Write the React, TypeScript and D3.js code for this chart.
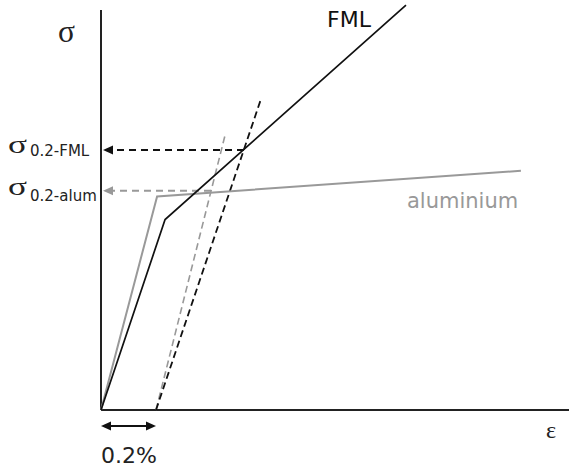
import * as React from 'react'
import * as d3 from 'd3'

// strain in %, stress in MPa (schematic)
const aluminiumCurve: [number, number][] = [[0, 0], [0.204, 267], [1.527, 299]]
const fmlCurve: [number, number][] = [[0, 0], [0.233, 238], [1.109, 506]]
const aluminiumOffset: [number, number][] = [[0.2, 0], [0.453, 346]]
const fmlOffset: [number, number][] = [[0.2, 0], [0.582, 389]]
const proofStressFml = 325
const proofStressAlum = 274
const proofStrainFml = 0.52
const proofStrainAlum = 0.4
const offsetStrain = 0.2

const W = 569
const H = 470
const x0 = 101
const y0 = 410

const BLACK = '#111'
const GREY = '#999'

export default function App() {
  const x = d3.scaleLinear().domain([0, 1]).range([x0, x0 + 275])
  const y = d3.scaleLinear().domain([0, 500]).range([y0, 10])
  const line = d3.line<[number, number]>().x(d => x(d[0])).y(d => y(d[1]))

  const leftArrow = (px: number, py: number) =>
    `M${px},${py} L${px + 10},${py - 4.5} L${px + 10},${py + 4.5} Z`

  const yF = y(proofStressFml)
  const yA = y(proofStressAlum)
  const ya = y0 + 16

  return (
    <svg width={W} height={H} style={{ position: 'absolute', left: 0, top: 0, background: '#fff' }}>
      {/* axes */}
      <line x1={x0} x2={x0} y1={10} y2={y0} stroke="#222" strokeWidth={2} />
      <line x1={x0} x2={W} y1={y0} y2={y0} stroke="#222" strokeWidth={2} />

      {/* offset lines */}
      <path d={line(aluminiumOffset)!} fill="none" stroke={GREY} strokeWidth={1.6} strokeDasharray="7,4" />
      <path d={line(fmlOffset)!} fill="none" stroke={BLACK} strokeWidth={1.8} strokeDasharray="7,4" />

      {/* proof stress markers */}
      <line x1={x(proofStrainAlum)} x2={x0 + 9} y1={yA} y2={yA} stroke={GREY} strokeWidth={2} strokeDasharray="7,5" />
      <path d={leftArrow(x0 + 2, yA)} fill={GREY} />
      <line x1={x(proofStrainFml)} x2={x0 + 9} y1={yF} y2={yF} stroke={BLACK} strokeWidth={2} strokeDasharray="7,5" />
      <path d={leftArrow(x0 + 2, yF)} fill={BLACK} />

      {/* curves */}
      <path d={line(aluminiumCurve)!} fill="none" stroke={GREY} strokeWidth={2} />
      <path d={line(fmlCurve)!} fill="none" stroke={BLACK} strokeWidth={1.7} />

      {/* 0.2% arrow */}
      <line x1={x(0) + 6} x2={x(offsetStrain) - 6} y1={ya} y2={ya} stroke={BLACK} strokeWidth={2} />
      <path d={`M${x(0)},${ya} L${x(0) + 10},${ya - 4.5} L${x(0) + 10},${ya + 4.5} Z`} fill={BLACK} />
      <path d={`M${x(offsetStrain)},${ya} L${x(offsetStrain) - 10},${ya - 4.5} L${x(offsetStrain) - 10},${ya + 4.5} Z`} fill={BLACK} />

      {/* labels */}
      <text x={58} y={42} fontFamily="Liberation Serif" fontSize={31} fill="#222" textLength={17} lengthAdjust="spacingAndGlyphs">σ</text>
      <text x={546} y={438} fontFamily="Liberation Serif" fontSize={24} fill="#222">ε</text>
      <text x={8} y={153} fontFamily="Liberation Serif" fontSize={26} fill="#222" textLength={19} lengthAdjust="spacingAndGlyphs">σ</text>
      <text x={30} y={156} fontFamily="DejaVu Sans" fontSize={15} fill="#222">0.2-FML</text>
      <text x={8} y={195} fontFamily="Liberation Serif" fontSize={26} fill="#222" textLength={19} lengthAdjust="spacingAndGlyphs">σ</text>
      <text x={30} y={201} fontFamily="DejaVu Sans" fontSize={15} fill="#222">0.2-alum</text>
      <text x={327} y={27} fontFamily="DejaVu Sans" fontSize={22} fill="#111">FML</text>
      <text x={407} y={208} fontFamily="DejaVu Sans" fontSize={21} fill={GREY}>aluminium</text>
      <text x={101} y={463} fontFamily="DejaVu Sans" fontSize={22} fill="#222">0.2%</text>
    </svg>
  )
}
